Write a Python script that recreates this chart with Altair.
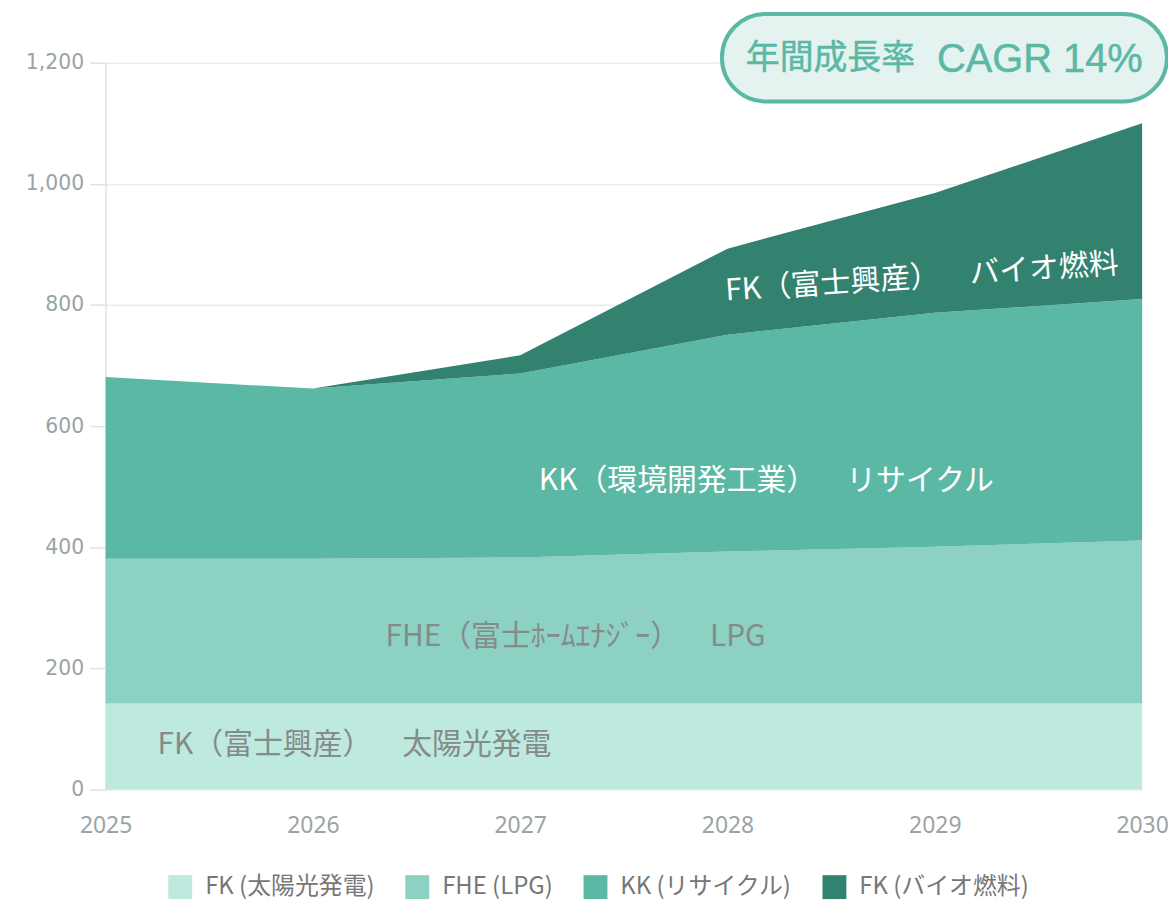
import altair as alt
import pandas as pd

years = [2025, 2026, 2027, 2028, 2029, 2030]
series_names = ["FK (太陽光発電)", "FHE (LPG)", "KK (リサイクル)", "FK (バイオ燃料)"]
solar = [142, 142, 142, 142, 142, 142]
lpg = [239, 239, 241, 251, 259, 269]
recycle = [300, 281, 304, 358, 386, 399]
bio = [0, 0, 30, 142, 198, 290]
colors = ["#bde9df", "#8dd1c2", "#5bb8a5", "#338270"]

y_ticks = [0, 200, 400, 600, 800, 1000, 1200]

ann_text = ["FK（富士興産）　\u2002太陽光発電", "FHE（富士ﾎｰﾑｴﾅｼﾞｰ）　\u2002LPG",
            "KK（環境開発工業）　\u2002リサイクル", "FK（富士興産）　\u2002バイオ燃料"]
ann_x = [2025.25, 2026.35, 2027.09, 2027.99]
ann_y = [74, 252, 510, 822]
ann_color = ["#858a8a", "#858a8a", "#ffffff", "#ffffff"]
ann_angle = [0, 0, 0, 356]

badge_cjk = "年間成長率"
badge_latin = "CAGR 14%"

rows = []
for si, (name, vals) in enumerate(zip(series_names, [solar, lpg, recycle, bio])):
    for yr, v in zip(years, vals):
        rows.append({"year": yr, "series": name, "value": v, "ord": si})
df = pd.DataFrame(rows)

ann = pd.DataFrame({"x": ann_x, "y": ann_y, "text": ann_text,
                    "color": ann_color, "angle": ann_angle})

x_enc = alt.X("year:Q", scale=alt.Scale(domain=[2025, 2030], nice=False, zero=False),
              axis=alt.Axis(values=years, format="d", title=None, grid=False,
                            domain=False, ticks=False, labelPadding=25,
                            labelFlush=False,
                            labelFont="Noto Sans", labelFontSize=23,
                            labelColor="#9aa4a3"))
y_enc = alt.Y("value:Q", stack="zero",
              scale=alt.Scale(domain=[0, 1200], nice=False),
              axis=alt.Axis(values=y_ticks, format=",.0f", title=None,
                            grid=True, gridColor="#ebebeb", gridWidth=1.5,
                            domain=True, domainColor="#e2e2e2", domainWidth=1.5,
                            ticks=True, tickColor="#e2e2e2", tickSize=16, tickWidth=1.5,
                            labelPadding=6, labelFont="DejaVu Sans", labelFontSize=20.5,
                            labelColor="#9aa4a3"))

areas = alt.Chart(df).mark_area(opacity=1, interpolate="linear").encode(
    x=x_enc,
    y=y_enc,
    color=alt.Color("series:N",
                    scale=alt.Scale(domain=series_names, range=colors),
                    legend=alt.Legend(title=None, orient="none", direction="horizontal",
                                      legendX=63, legendY=816,
                                      symbolType="square", symbolSize=576,
                                      symbolStrokeWidth=0, symbolOpacity=1,
                                      labelFont="Noto Sans CJK JP", labelFontSize=24,
                                      labelColor="#777777", labelOffset=13,
                                      columnPadding=30, labelLimit=400)),
    order=alt.Order("ord:Q", sort="ascending"),
)

labels = alt.Chart(ann).mark_text(align="left", baseline="middle",
                                  font="Noto Sans CJK JP", fontSize=30).encode(
    x=alt.X("x:Q"),
    y=alt.Y("y:Q"),
    text="text:N",
    color=alt.Color("color:N", scale=None),
    angle=alt.Angle("angle:Q", scale=None),
)

badge_df = pd.DataFrame({"cjk": [badge_cjk], "latin": [badge_latin]})
badge_box = alt.Chart(badge_df).mark_rect(
    fill="#e4f3f0", stroke="#5bb8a5", strokeWidth=4, cornerRadius=44
).encode(x=alt.value(619), x2=alt.value(1066), y=alt.value(-49), y2=alt.value(39))
badge_label1 = alt.Chart(badge_df).mark_text(
    font="Noto Sans CJK JP", fontSize=34, color="#5bb8a5",
    stroke="#5bb8a5", strokeWidth=0.5,
    align="left", baseline="middle"
).encode(x=alt.value(643), y=alt.value(-4), text="cjk:N")
badge_label2 = alt.Chart(badge_df).mark_text(
    font="Liberation Sans", fontSize=40, color="#5bb8a5",
    stroke="#5bb8a5", strokeWidth=0.5,
    align="left", baseline="middle"
).encode(x=alt.value(835), y=alt.value(-3), text="latin:N")

chart = alt.layer(areas, labels, badge_box, badge_label1, badge_label2).properties(
    width=1041, height=730,
    padding={"left": 98, "top": 53, "right": 26, "bottom": 110},
    autosize=alt.AutoSizeParams(type="none"),
    background="#ffffff",
).configure_view(stroke=None)

chart.save("out.html", embed_options={"renderer": "svg", "actions": False})
